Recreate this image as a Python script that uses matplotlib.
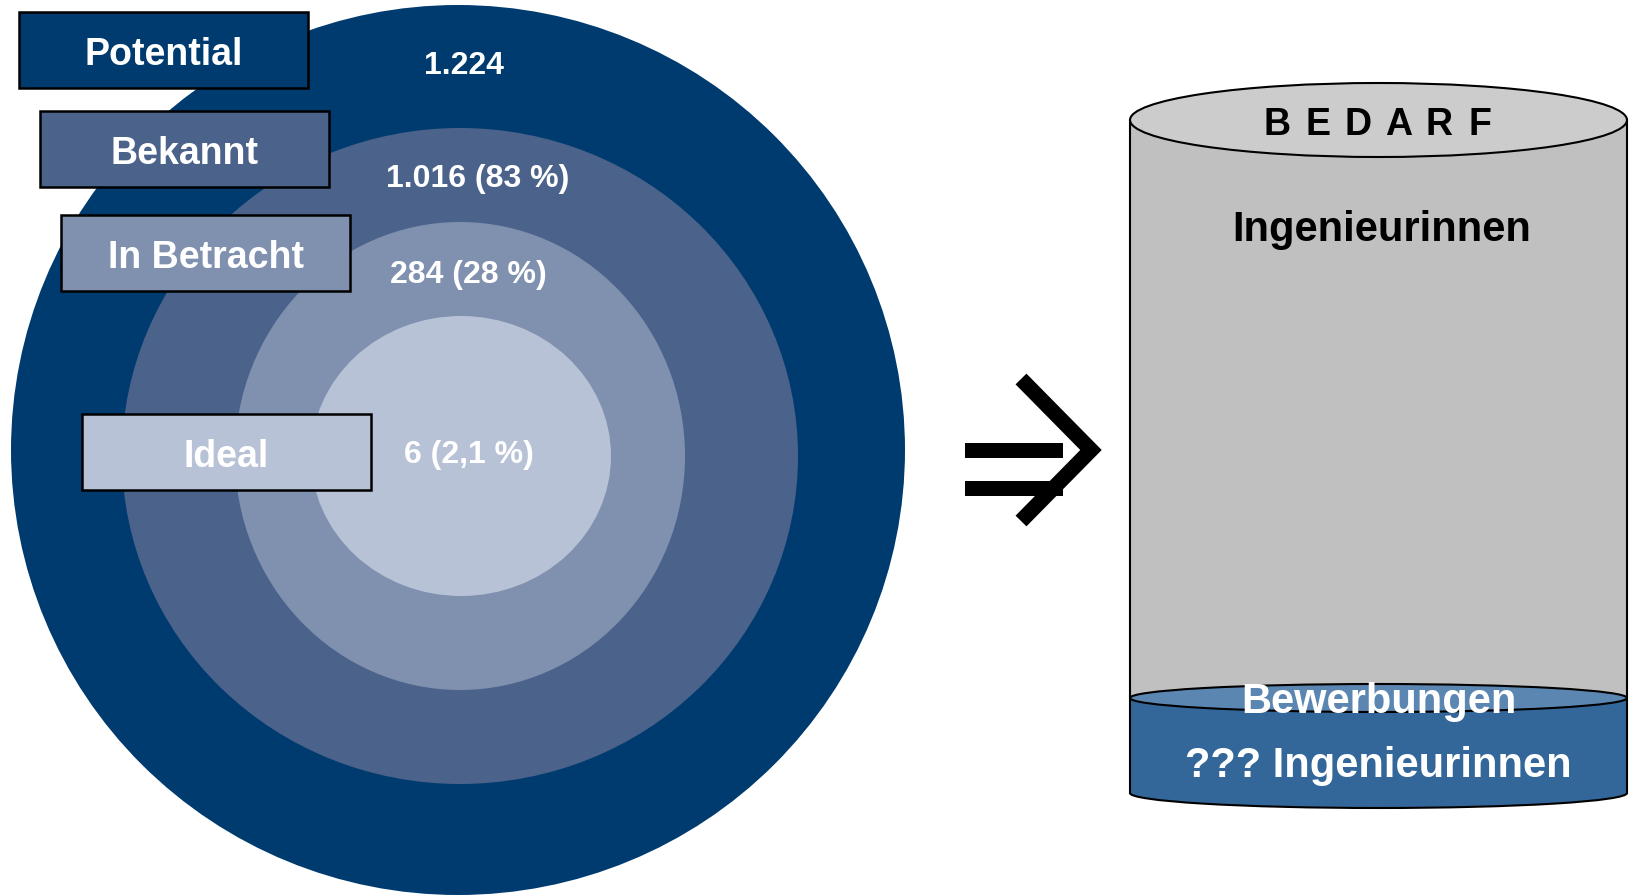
import matplotlib
matplotlib.use("Agg")
import matplotlib.pyplot as plt
from matplotlib.patches import Ellipse, Rectangle

# Daten
stufen = ["Potential", "Bekannt", "In Betracht", "Ideal"]
werte = ["1.224", "1.016 (83 %)", "284 (28 %)", "6 (2,1 %)"]
farben = ["#003b6f", "#4b628b", "#8091b0", "#b8c2d6"]
ringe = [(458, 450, 447, 445), (460, 456, 338, 328), (460, 456, 225, 234), (461, 456, 150, 140)]
boxen = [(19, 12), (40, 111), (61, 215), (82, 414)]
wert_pos = [(464, 63), (478, 176), (468, 271), (469, 452)]
bedarf = list("BEDARF")

plt.rcParams['font.family'] = ['Liberation Sans', 'DejaVu Sans']

fig = plt.figure(figsize=(16.32, 8.96), dpi=100)
ax = fig.add_axes([0, 0, 1, 1])
ax.set_xlim(0, 1632)
ax.set_ylim(896, 0)
ax.axis("off")

# konzentrische Ringe
for (cx, cy, rx, ry), c in zip(ringe, farben):
    ax.add_patch(Ellipse((cx, cy), 2 * rx, 2 * ry, facecolor=c, edgecolor="none"))

# Beschriftungskaesten
for name, (x0, y0), c in zip(stufen, boxen, farben):
    ax.add_patch(Rectangle((x0, y0), 289, 76, facecolor=c, edgecolor="black", lw=1.8, zorder=3))
    ax.text(x0 + 144.5, y0 + 39, name, color="white", fontsize=27, fontweight="bold",
            ha="center", va="center_baseline", zorder=4)

for w, (x, y) in zip(werte, wert_pos):
    ax.text(x, y, w, color="white", fontsize=23, fontweight="bold", ha="center", va="center_baseline")

# Pfeil
ax.add_patch(Rectangle((965, 443), 98, 15, facecolor="black", edgecolor="none"))
ax.add_patch(Rectangle((965, 481), 98, 15, facecolor="black", edgecolor="none"))
ax.plot([1021, 1091, 1021], [379, 450, 521], color="black", lw=11, solid_joinstyle="miter",
        solid_capstyle="butt")

# Zylinder
cx, rx = 1378.5, 248.5
top_y, ry_top = 120, 37
blau_y, ry_blau = 698, 14
boden_y, ry_boden = 793, 15

ax.add_patch(Ellipse((cx, boden_y), 2 * rx, 2 * ry_boden, facecolor="#336699", edgecolor="black", lw=1.5, zorder=1))
ax.add_patch(Rectangle((cx - rx, blau_y), 2 * rx, boden_y - blau_y, facecolor="#336699", edgecolor="none", zorder=2))
ax.plot([cx - rx, cx - rx], [top_y, boden_y], color="black", lw=1.5, zorder=3)
ax.plot([cx + rx, cx + rx], [top_y, boden_y], color="black", lw=1.5, zorder=3)
ax.add_patch(Rectangle((cx - rx, top_y), 2 * rx, blau_y - top_y, facecolor="#c0c0c0", edgecolor="none", zorder=1.5))
ax.add_patch(Ellipse((cx, blau_y), 2 * rx, 2 * ry_blau, facecolor="#5b86b1", edgecolor="black", lw=1.5, zorder=2.5))
ax.add_patch(Ellipse((cx, top_y), 2 * rx, 2 * ry_top, facecolor="#cccccc", edgecolor="black", lw=1.5, zorder=2.5))

for i, b in enumerate(bedarf):
    ax.text(cx + (i - 2.5) * 40.5, 121, b, fontsize=27, fontweight="bold", ha="center",
            va="center_baseline", zorder=4)
ax.text(cx + 3, 225, "Ingenieurinnen", fontsize=30, fontweight="bold", ha="center", va="center_baseline", zorder=4)
ax.text(cx, 697, "Bewerbungen", fontsize=30, fontweight="bold", color="white", ha="center",
        va="center_baseline", zorder=4)
ax.text(cx, 761, "??? Ingenieurinnen", fontsize=30, fontweight="bold", color="white", ha="center",
        va="center_baseline", zorder=4)

fig.savefig("out.png", dpi=100)
